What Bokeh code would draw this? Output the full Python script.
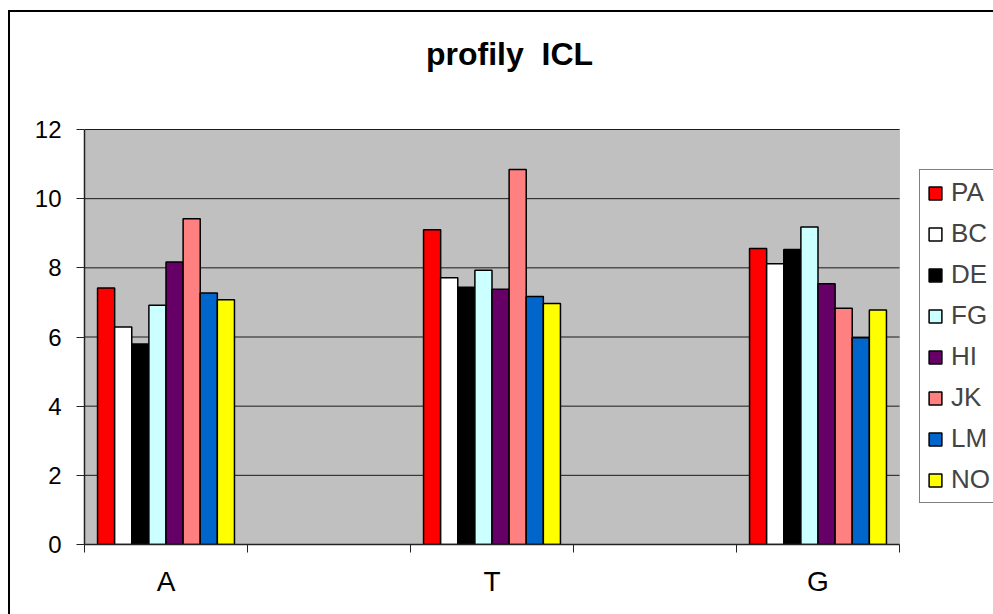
from bokeh.plotting import figure
from bokeh.models import Range1d, FixedTicker, Legend, LegendItem, Label, BoxAnnotation
from bokeh.embed import file_html
from bokeh.resources import INLINE

# Category slots along the x axis (empty slots keep the spacing between groups)
categories = ["A", "", "T", "", "G"]
y_ticks = [0, 2, 4, 6, 8, 10, 12]

series_names = ["PA", "BC", "DE", "FG", "HI", "JK", "LM", "NO"]
series_colors = ["#FF0000", "#FFFFFF", "#000000", "#CCFFFF",
                 "#660066", "#FF8080", "#0066CC", "#FFFF00"]

PA = [7.42, None, 9.10, None, 8.56]
BC = [6.29, None, 7.71, None, 8.12]
DE = [5.80, None, 7.44, None, 8.53]
FG = [6.92, None, 7.93, None, 9.18]
HI = [8.17, None, 7.38, None, 7.54]
JK = [9.42, None, 10.84, None, 6.83]
LM = [7.27, None, 7.17, None, 5.98]
NO = [7.08, None, 6.97, None, 6.78]
series_values = [PA, BC, DE, FG, HI, JK, LM, NO]

FONT = "Liberation Sans"
n_cat = len(categories)
y_max = y_ticks[-1]
bar_w = 0.105

# Layout: the frame spans the whole chart area (title and legend live inside it);
# the shaded plot area occupies PLOT_W x PLOT_H pixels of its lower-left part.
FRAME_W, FRAME_H = 909, 532
PLOT_W, PLOT_H = 815, 415

p = figure(frame_width=FRAME_W, frame_height=FRAME_H,
           output_backend="svg", toolbar_location=None,
           x_range=Range1d(0, n_cat * FRAME_W / PLOT_W),
           y_range=Range1d(0, y_max * FRAME_H / PLOT_H),
           min_border_left=74, min_border_right=0,
           min_border_top=0, min_border_bottom=70,
           margin=(10, 0, 0, 8))
# black chart border along the top and left edges
p.styles = {"border-top": "2px solid black", "border-left": "2px solid black"}

p.background_fill_color = "white"
p.border_fill_color = "white"
p.outline_line_color = None
p.xgrid.visible = False
p.ygrid.visible = False

# grey plot area
p.add_layout(BoxAnnotation(left=0, right=n_cat, bottom=0, top=y_max,
                           fill_color="#C0C0C0", fill_alpha=1,
                           line_color="#808080", line_width=1, level="image"))

# horizontal gridlines across the plot area
p.segment(x0=[0] * len(y_ticks), x1=[n_cat] * len(y_ticks), y0=y_ticks, y1=y_ticks,
          line_color="#1a1a1a", line_width=1)

# x axis: labels in the middle of each slot, tick marks on slot boundaries
p.xaxis.bounds = (0, n_cat)
p.xaxis.ticker = FixedTicker(ticks=[i + 0.5 for i in range(n_cat)],
                             minor_ticks=list(range(n_cat + 1)))
p.xaxis.major_label_overrides = {i + 0.5: c for i, c in enumerate(categories)}
p.xaxis.major_tick_in = 0
p.xaxis.major_tick_out = 0
p.xaxis.minor_tick_in = 0
p.xaxis.minor_tick_out = 8
p.xaxis.minor_tick_line_color = "#222222"
p.xaxis.axis_line_color = "#222222"
p.xaxis.axis_line_width = 1.5
p.xaxis.major_label_text_font = FONT
p.xaxis.major_label_text_font_size = "28px"
p.xaxis.major_label_text_color = "black"
p.xaxis.major_label_standoff = 13

# y axis
p.yaxis.bounds = (0, y_max)
p.yaxis.ticker = FixedTicker(ticks=y_ticks)
p.yaxis.major_tick_in = 0
p.yaxis.major_tick_out = 8
p.yaxis.minor_tick_line_color = None
p.yaxis.major_tick_line_color = "#222222"
p.yaxis.axis_line_color = "#222222"
p.yaxis.axis_line_width = 1.5
p.yaxis.major_label_text_font = FONT
p.yaxis.major_label_text_font_size = "24px"
p.yaxis.major_label_text_color = "black"
p.yaxis.major_label_standoff = 15

# clustered bars
items = []
for j, (name, color, vals) in enumerate(zip(series_names, series_colors, series_values)):
    xs = [i + 0.5 + (j - 3.5) * bar_w for i, v in enumerate(vals) if v is not None]
    tops = [v for v in vals if v is not None]
    r = p.vbar(x=xs, top=tops, bottom=0, width=bar_w,
               fill_color=color, line_color="black", line_width=1.5)
    items.append(LegendItem(label=name, renderers=[r]))

legend = Legend(items=items, location=(835, 41),
                glyph_width=16, glyph_height=16,
                label_text_font=FONT, label_text_font_size="26px",
                label_standoff=8, spacing=10, padding=7, margin=0,
                border_line_color="black", border_line_width=1,
                background_fill_color="white", background_fill_alpha=1)
p.add_layout(legend, "center")

# chart title (no-break space keeps the double gap)
p.add_layout(Label(x=425, y=490.5, x_units="screen", y_units="screen",
                   text="profily\u00a0 ICL", text_align="center",
                   text_baseline="alphabetic",
                   text_font=FONT, text_font_size="32px", text_font_style="bold",
                   text_color="black"))

open("out.html", "w").write(file_html(p, INLINE))
